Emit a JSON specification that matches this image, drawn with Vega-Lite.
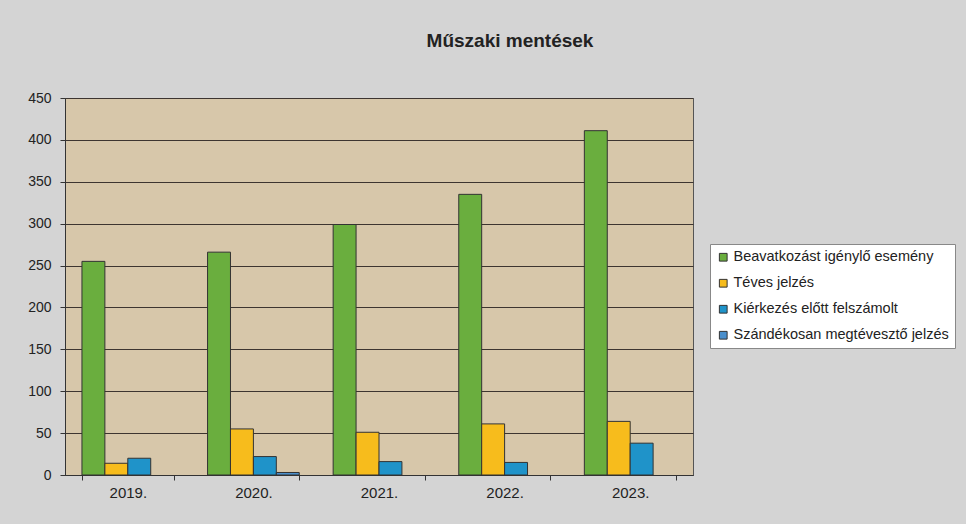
{
  "$schema": "https://vega.github.io/schema/vega-lite/v6.json",
  "autosize": {"type": "none"},
  "width": 628,
  "height": 377,
  "padding": {"left": 65, "top": 98, "right": 273, "bottom": 49},
  "background": "#d4d4d4",
  "title": {
    "text": "Műszaki mentések",
    "anchor": "middle",
    "dx": 131,
    "offset": 40,
    "font": "Liberation Sans",
    "fontSize": 19,
    "fontWeight": "bold",
    "color": "#222222"
  },
  "config": {
    "font": "Liberation Sans",
    "view": {"fill": "#d7c7aa", "stroke": "#555555", "strokeWidth": 1}
  },
  "data": {
    "values": [
      {"year": "2019.", "series": "Beavatkozást igénylő esemény", "value": 255},
      {"year": "2019.", "series": "Téves jelzés", "value": 14},
      {"year": "2019.", "series": "Kiérkezés előtt felszámolt", "value": 20},
      {"year": "2019.", "series": "Szándékosan megtévesztő jelzés", "value": 0},
      {"year": "2020.", "series": "Beavatkozást igénylő esemény", "value": 266},
      {"year": "2020.", "series": "Téves jelzés", "value": 55},
      {"year": "2020.", "series": "Kiérkezés előtt felszámolt", "value": 22},
      {"year": "2020.", "series": "Szándékosan megtévesztő jelzés", "value": 3},
      {"year": "2021.", "series": "Beavatkozást igénylő esemény", "value": 299},
      {"year": "2021.", "series": "Téves jelzés", "value": 51},
      {"year": "2021.", "series": "Kiérkezés előtt felszámolt", "value": 16},
      {"year": "2021.", "series": "Szándékosan megtévesztő jelzés", "value": 0},
      {"year": "2022.", "series": "Beavatkozást igénylő esemény", "value": 335},
      {"year": "2022.", "series": "Téves jelzés", "value": 61},
      {"year": "2022.", "series": "Kiérkezés előtt felszámolt", "value": 15},
      {"year": "2022.", "series": "Szándékosan megtévesztő jelzés", "value": 0},
      {"year": "2023.", "series": "Beavatkozást igénylő esemény", "value": 411},
      {"year": "2023.", "series": "Téves jelzés", "value": 64},
      {"year": "2023.", "series": "Kiérkezés előtt felszámolt", "value": 38},
      {"year": "2023.", "series": "Szándékosan megtévesztő jelzés", "value": 0}
    ]
  },
  "mark": {"type": "bar", "stroke": "#333333", "strokeWidth": 1},
  "encoding": {
    "x": {
      "field": "year",
      "type": "nominal",
      "scale": {"paddingInner": 0.27, "paddingOuter": 0.135},
      "axis": {
        "title": null,
        "labelAngle": 0,
        "tickBand": "extent",
        "labelFontSize": 15,
        "labelColor": "#222222",
        "labelPadding": 5,
        "tickSize": 5,
        "tickColor": "#333333",
        "domainColor": "#333333"
      }
    },
    "xOffset": {
      "field": "series",
      "type": "nominal",
      "sort": ["Beavatkozást igénylő esemény", "Téves jelzés", "Kiérkezés előtt felszámolt", "Szándékosan megtévesztő jelzés"],
      "scale": {"paddingInner": 0, "paddingOuter": 0}
    },
    "y": {
      "field": "value",
      "type": "quantitative",
      "scale": {"domain": [0, 450], "nice": false},
      "axis": {
        "title": null,
        "values": [0, 50, 100, 150, 200, 250, 300, 350, 400, 450],
        "grid": true,
        "gridColor": "#3d3530",
        "gridWidth": 1,
        "labelFontSize": 14,
        "labelColor": "#222222",
        "labelPadding": 9,
        "tickSize": 5,
        "tickColor": "#333333",
        "domainColor": "#333333"
      }
    },
    "strokeOpacity": {
      "condition": {"test": "datum.value > 0", "value": 1},
      "value": 0
    },
    "color": {
      "field": "series",
      "type": "nominal",
      "sort": ["Beavatkozást igénylő esemény", "Téves jelzés", "Kiérkezés előtt felszámolt", "Szándékosan megtévesztő jelzés"],
      "scale": {
        "domain": ["Beavatkozást igénylő esemény", "Téves jelzés", "Kiérkezés előtt felszámolt", "Szándékosan megtévesztő jelzés"],
        "range": ["#6aae3e", "#f7bc1c", "#1f93c9", "#4a8fcc"]
      },
      "legend": {
        "title": null,
        "orient": "none",
        "legendX": 645,
        "legendY": 146,
        "fillColor": "#ffffff",
        "strokeColor": "#888888",
        "padding": 6,
        "symbolType": "square",
        "symbolSize": 60,
        "symbolStrokeColor": "#333333",
        "symbolStrokeWidth": 1,
        "labelFontSize": 14.5,
        "labelColor": "#222222",
        "labelLimit": 300,
        "labelOffset": 3,
        "rowPadding": 11
      }
    }
  }
}
